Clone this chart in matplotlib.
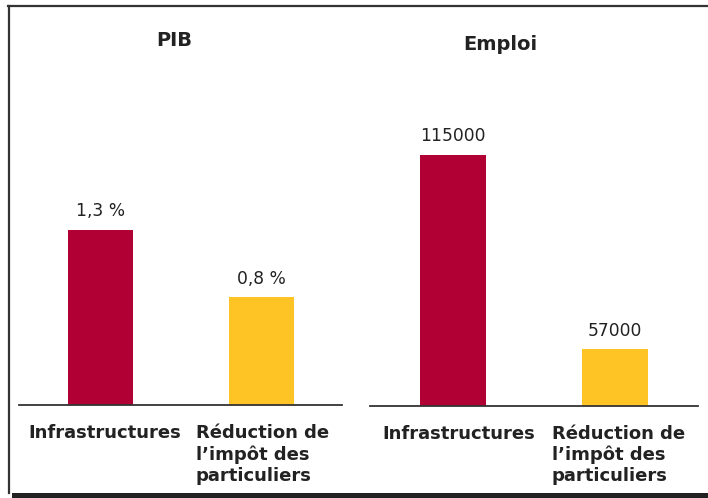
import matplotlib
matplotlib.use("Agg")
import matplotlib.pyplot as plt
from matplotlib.patches import Rectangle
from matplotlib.lines import Line2D

# Data
categories = ["Infrastructures", "Réduction de\nl\u2019impôt des\nparticuliers"]
pib_values = [1.3, 0.8]
pib_labels = ["1,3 %", "0,8 %"]
emploi_values = [115000, 57000]
emploi_labels = ["115000", "57000"]
bar_colors = ["#B00034", "#FEC324"]
text_color = "#222222"

W, H = 708, 498
fig = plt.figure(figsize=(W / 100, H / 100), dpi=100)
fig.patch.set_facecolor("white")


def px_axes(x0, x1, ybase, ytop):
    return fig.add_axes([x0 / W, (H - ybase) / H, (x1 - x0) / W, (ybase - ytop) / H])


ax1 = px_axes(19, 342, 405, 60)
ax2 = px_axes(370, 698, 405.5, 60)

panels = [
    (ax1, pib_values, pib_labels, (-0.506, 1.5), (0, 2.563), 0.404, [0.025, 0.005]),
    (ax2, emploi_values, emploi_labels, (-0.512, 1.512), (40240, 143380), 0.407, [0.035, 0.02]),
]

for ax, vals, labs, xl, yl, bw, shifts in panels:
    ax.bar([0, 1], vals, width=bw, color=bar_colors)
    ax.set_xlim(*xl)
    ax.set_ylim(*yl)
    for sp in ["top", "left", "right"]:
        ax.spines[sp].set_visible(False)
    ax.spines["bottom"].set_color("#333333")
    ax.spines["bottom"].set_linewidth(1.3)
    ax.set_xticks([])
    ax.set_yticks([])
    ax.patch.set_alpha(0)
    for i, (v, lab) in enumerate(zip(vals, labs)):
        ax.annotate(lab, (i, v), xytext=(0, 7), textcoords="offset points",
                    ha="center", va="bottom", fontsize=12.3, color=text_color)
    for i, cat in enumerate(categories):
        ax.annotate(cat, (i + shifts[i], 0), xycoords=("data", "axes fraction"),
                    xytext=(0, -14), textcoords="offset points",
                    ha="center", va="top", multialignment="left",
                    fontsize=13, fontweight="bold", color=text_color,
                    linespacing=1.2)

fig.text(174 / W, 1 - 40 / H, "PIB", ha="center", va="center",
         fontsize=14, fontweight="bold", color=text_color)
fig.text(500 / W, 1 - 45 / H, "Emploi", ha="center", va="center",
         fontsize=14, fontweight="bold", color=text_color)

# Frame with shadow
fig.add_artist(Line2D([8 / W, 1], [1 - 6 / H, 1 - 6 / H], color="#333333", lw=1.6))
fig.add_artist(Line2D([9 / W, 9 / W], [1 - 6 / H, 1 - 493 / H], color="#333333", lw=1.6))
fig.add_artist(Rectangle((12 / W, 0), 1 - 12 / W, 5 / H, transform=fig.transFigure,
                         facecolor="#222222", edgecolor="none"))

fig.savefig("out.png", dpi=100)
